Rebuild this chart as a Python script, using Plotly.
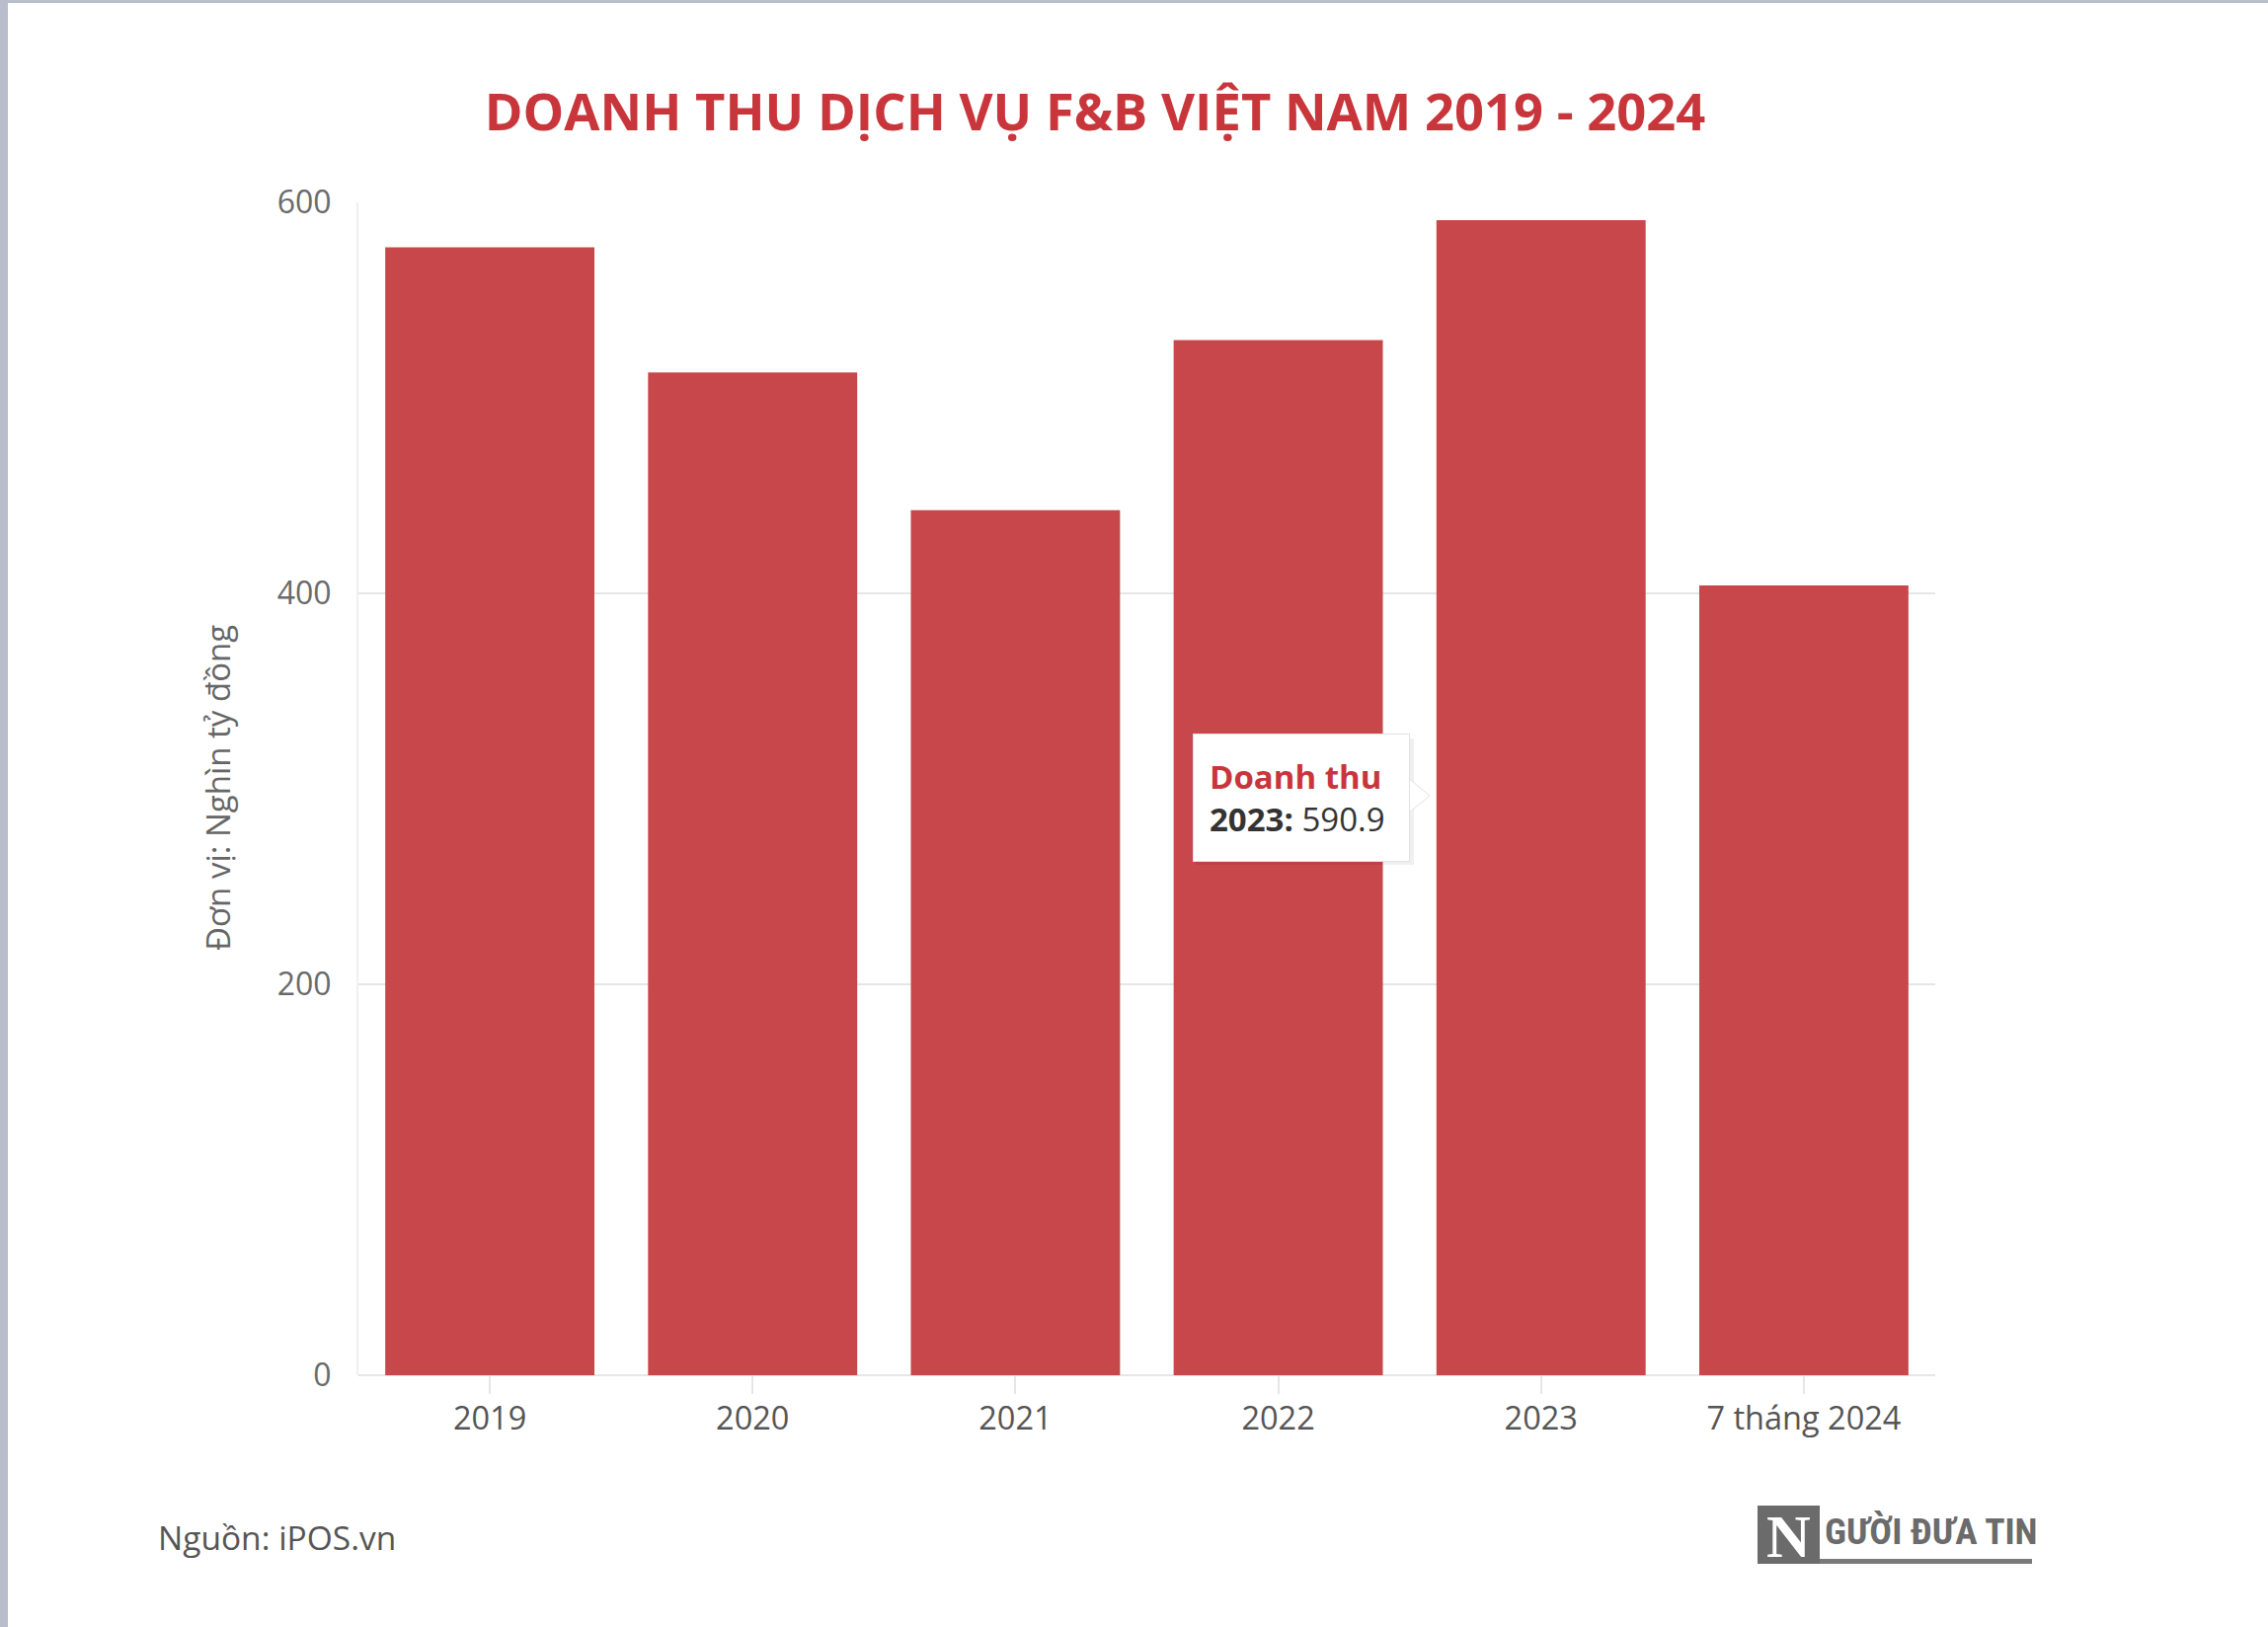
import plotly.graph_objects as go

# ---- data ----
categories = ["2019", "2020", "2021", "2022", "2023", "7 tháng 2024"]
revenue = [577.0, 513.0, 442.5, 529.5, 590.9, 404.0]
y_ticks = [0, 200, 400, 600]
series_name = "Doanh thu"
title_text = "DOANH THU DỊCH VỤ F&B VIỆT NAM 2019 - 2024"
y_title = "Đơn vị: Nghìn tỷ đồng"
source_text = "Nguồn: iPOS.vn"
highlight_index = 4

# ---- layout geometry (pixels) ----
W, H = 2297, 1648
PL, PR, PT, PB = 363, 1960, 205, 1393

def px(x):
    return (x - PL) / (PR - PL)

def py(y):
    return (PB - y) / (PB - PT)

BAR = "#c8474a"
RED = "#c8363c"
GRID = "#e6e6e6"
FONT = "Open Sans"

fig = go.Figure()
fig.add_trace(go.Bar(
    x=categories, y=revenue, name=series_name,
    marker=dict(color=BAR, line=dict(width=0)),
    hovertemplate="<b>%{x}:</b> %{y}<extra>" + series_name + "</extra>",
))

shapes = [
    # outer frame bands (top / left)
    dict(type="rect", xref="paper", yref="paper", x0=px(0), x1=px(W), y0=py(0), y1=py(3),
         fillcolor="#b9bdcc", line=dict(width=0), layer="above"),
    dict(type="rect", xref="paper", yref="paper", x0=px(0), x1=px(8), y0=py(0), y1=py(H),
         fillcolor="#b9bdcc", line=dict(width=0), layer="above"),
    # tooltip shadow
    dict(type="rect", xref="paper", yref="paper", x0=px(1211), x1=px(1432), y0=py(748), y1=py(876),
         fillcolor="rgba(0,0,0,0.06)", line=dict(width=0), layer="above"),
    # tooltip pointer
    dict(type="path", xref="paper", yref="paper",
         path=f"M {px(1426)} {py(788)} L {px(1448)} {py(806)} L {px(1426)} {py(824)} Z",
         fillcolor="#ffffff", line=dict(color="#e2e2e2", width=1), layer="above"),
    # logo box
    dict(type="rect", xref="paper", yref="paper", x0=px(1780), x1=px(1843), y0=py(1525), y1=py(1584),
         fillcolor="#6b6b6b", line=dict(width=0), layer="above"),
    # logo underline
    dict(type="rect", xref="paper", yref="paper", x0=px(1843), x1=px(2058), y0=py(1579), y1=py(1584),
         fillcolor="#7a7a7a", line=dict(width=0), layer="above"),
]

annotations = [
    dict(text=y_title, xref="paper", yref="paper", x=px(220), y=py(798),
         xanchor="center", yanchor="middle", textangle=-90, showarrow=False,
         font=dict(family=FONT, size=33, color="#666666")),
    dict(text=source_text, xref="paper", yref="paper", x=px(158), y=py(1557),
         xanchor="left", yanchor="middle", showarrow=False,
         font=dict(family=FONT, size=33.5, color="#555555")),
    dict(text=f'<b><span style="color:{RED}">{series_name}</span></b><br>'
              f'<b>{categories[highlight_index]}:</b> {revenue[highlight_index]}',
         xref="paper", yref="paper", x=px(1318), y=py(808), xanchor="center", yanchor="middle",
         showarrow=False, align="left", valign="middle", width=186, height=96,
         bgcolor="#ffffff", bordercolor="#e2e2e2", borderwidth=1, borderpad=16,
         font=dict(family=FONT, size=33, color="#333333")),
    # logo
    dict(text="<b>N</b>", xref="paper", yref="paper", x=px(1811), y=py(1556),
         xanchor="center", yanchor="middle", showarrow=False,
         font=dict(family="Liberation Serif", size=62, color="#ffffff")),
    dict(text="<b>GƯỜI ĐƯA TIN</b>", xref="paper", yref="paper", x=px(1846), y=py(1551),
         xanchor="left", yanchor="middle", showarrow=False,
         font=dict(family="Liberation Sans Narrow, Roboto Condensed, Liberation Sans", size=37.5, color="#6b6b6b")),
]

fig.update_layout(
    width=W, height=H,
    margin=dict(l=PL, r=W - PR, t=PT, b=H - PB, pad=0),
    paper_bgcolor="#ffffff", plot_bgcolor="#ffffff",
    showlegend=False,
    bargap=0.204,
    title=dict(text=f"<b>{title_text}</b>", x=1109 / W, y=1 - 114 / H, xref="container",
               yref="container", xanchor="center", yanchor="middle",
               font=dict(family=FONT, size=52.5, color=RED)),
    xaxis=dict(
        type="category", showgrid=False, showline=False, zeroline=False,
        ticks="outside", ticklen=18, tickwidth=2, tickcolor=GRID, ticklabelstandoff=-3,
        tickfont=dict(family=FONT, size=32.5, color="#555555"),
    ),
    yaxis=dict(
        range=[0, 600], tickvals=y_ticks, showgrid=True, gridcolor=GRID, gridwidth=2,
        zeroline=True, zerolinecolor=GRID, zerolinewidth=2,
        showline=True, linecolor="#f0f0f0", linewidth=2,
        ticks="", ticklabelstandoff=19,
        tickfont=dict(family=FONT, size=32, color="#6a6a6a"),
    ),
    shapes=shapes, annotations=annotations,
    hoverlabel=dict(bgcolor="#ffffff", font=dict(family=FONT, size=28)),
)

fig.write_html("out.html")
